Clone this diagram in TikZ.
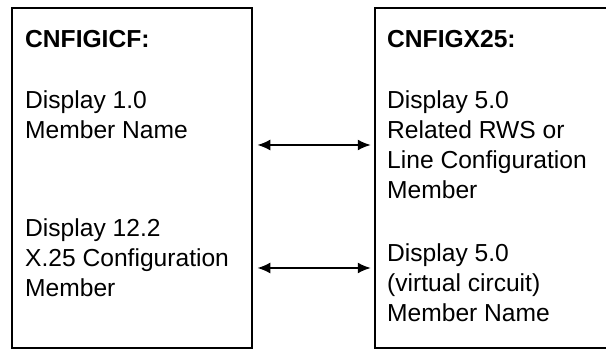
\documentclass[tikz,border=0pt]{standalone}
\usepackage{fontspec}
\setmainfont{Liberation Sans}
\usetikzlibrary{positioning}
\usetikzlibrary{arrows.meta}
\tikzset{
    panel/.style = {rectangle, draw=black, line width=2.5pt, inner sep=0pt},
    panelopen/.style = {rectangle, draw=none, inner sep=0pt},
    edgeline/.style = {draw=black, line width=2.5pt},
    title/.style = {anchor=north west, inner sep=0pt, font=\fontsize{24.6}{30}\selectfont\bfseries},
    entry/.style = {anchor=north west, inner sep=0pt, align=left, font=\fontsize{24.6}{30}\selectfont},
    link/.style = {{Latex[length=13pt,width=11pt]}-{Latex[length=13pt,width=11pt]}, line width=2pt, shorten <=4pt, shorten >=4pt}
}
\begin{document}
\begin{tikzpicture}[x=1pt,y=1pt]
\useasboundingbox (0,0) rectangle (606,350);
%
\node[panel, minimum width=240pt, minimum height=340pt] at (132,172) (icf) {};
\node[panelopen, minimum width=231pt, minimum height=340pt] at (490.5,172) (x25) {};
\draw[edgeline] (x25.north east) -- (x25.north west) -- (x25.south west) -- (x25.south east);
%
\node[title] at (25,320) (icft) {CNFIGICF:};
\node[entry] at (25,260) (icfa) {Display 1.0\\Member Name};
\node[entry] at (25,132) (icfb) {Display 12.2\\X.25 Configuration\\Member};
%
\node[title] at (387,320) (x25t) {CNFIGX25:};
\node[entry] at (387,260) (x25a) {Display 5.0\\Related RWS or\\Line Configuration\\Member};
\node[entry] at (387,107) (x25b) {Display 5.0\\(virtual circuit)\\Member Name};
%
\coordinate (ya) at (0,205);
\coordinate (yb) at (0,82);
\draw[link] (icf.east |- ya) -- (x25.west |- ya);
\draw[link] (icf.east |- yb) -- (x25.west |- yb);

\end{tikzpicture}
\end{document}
